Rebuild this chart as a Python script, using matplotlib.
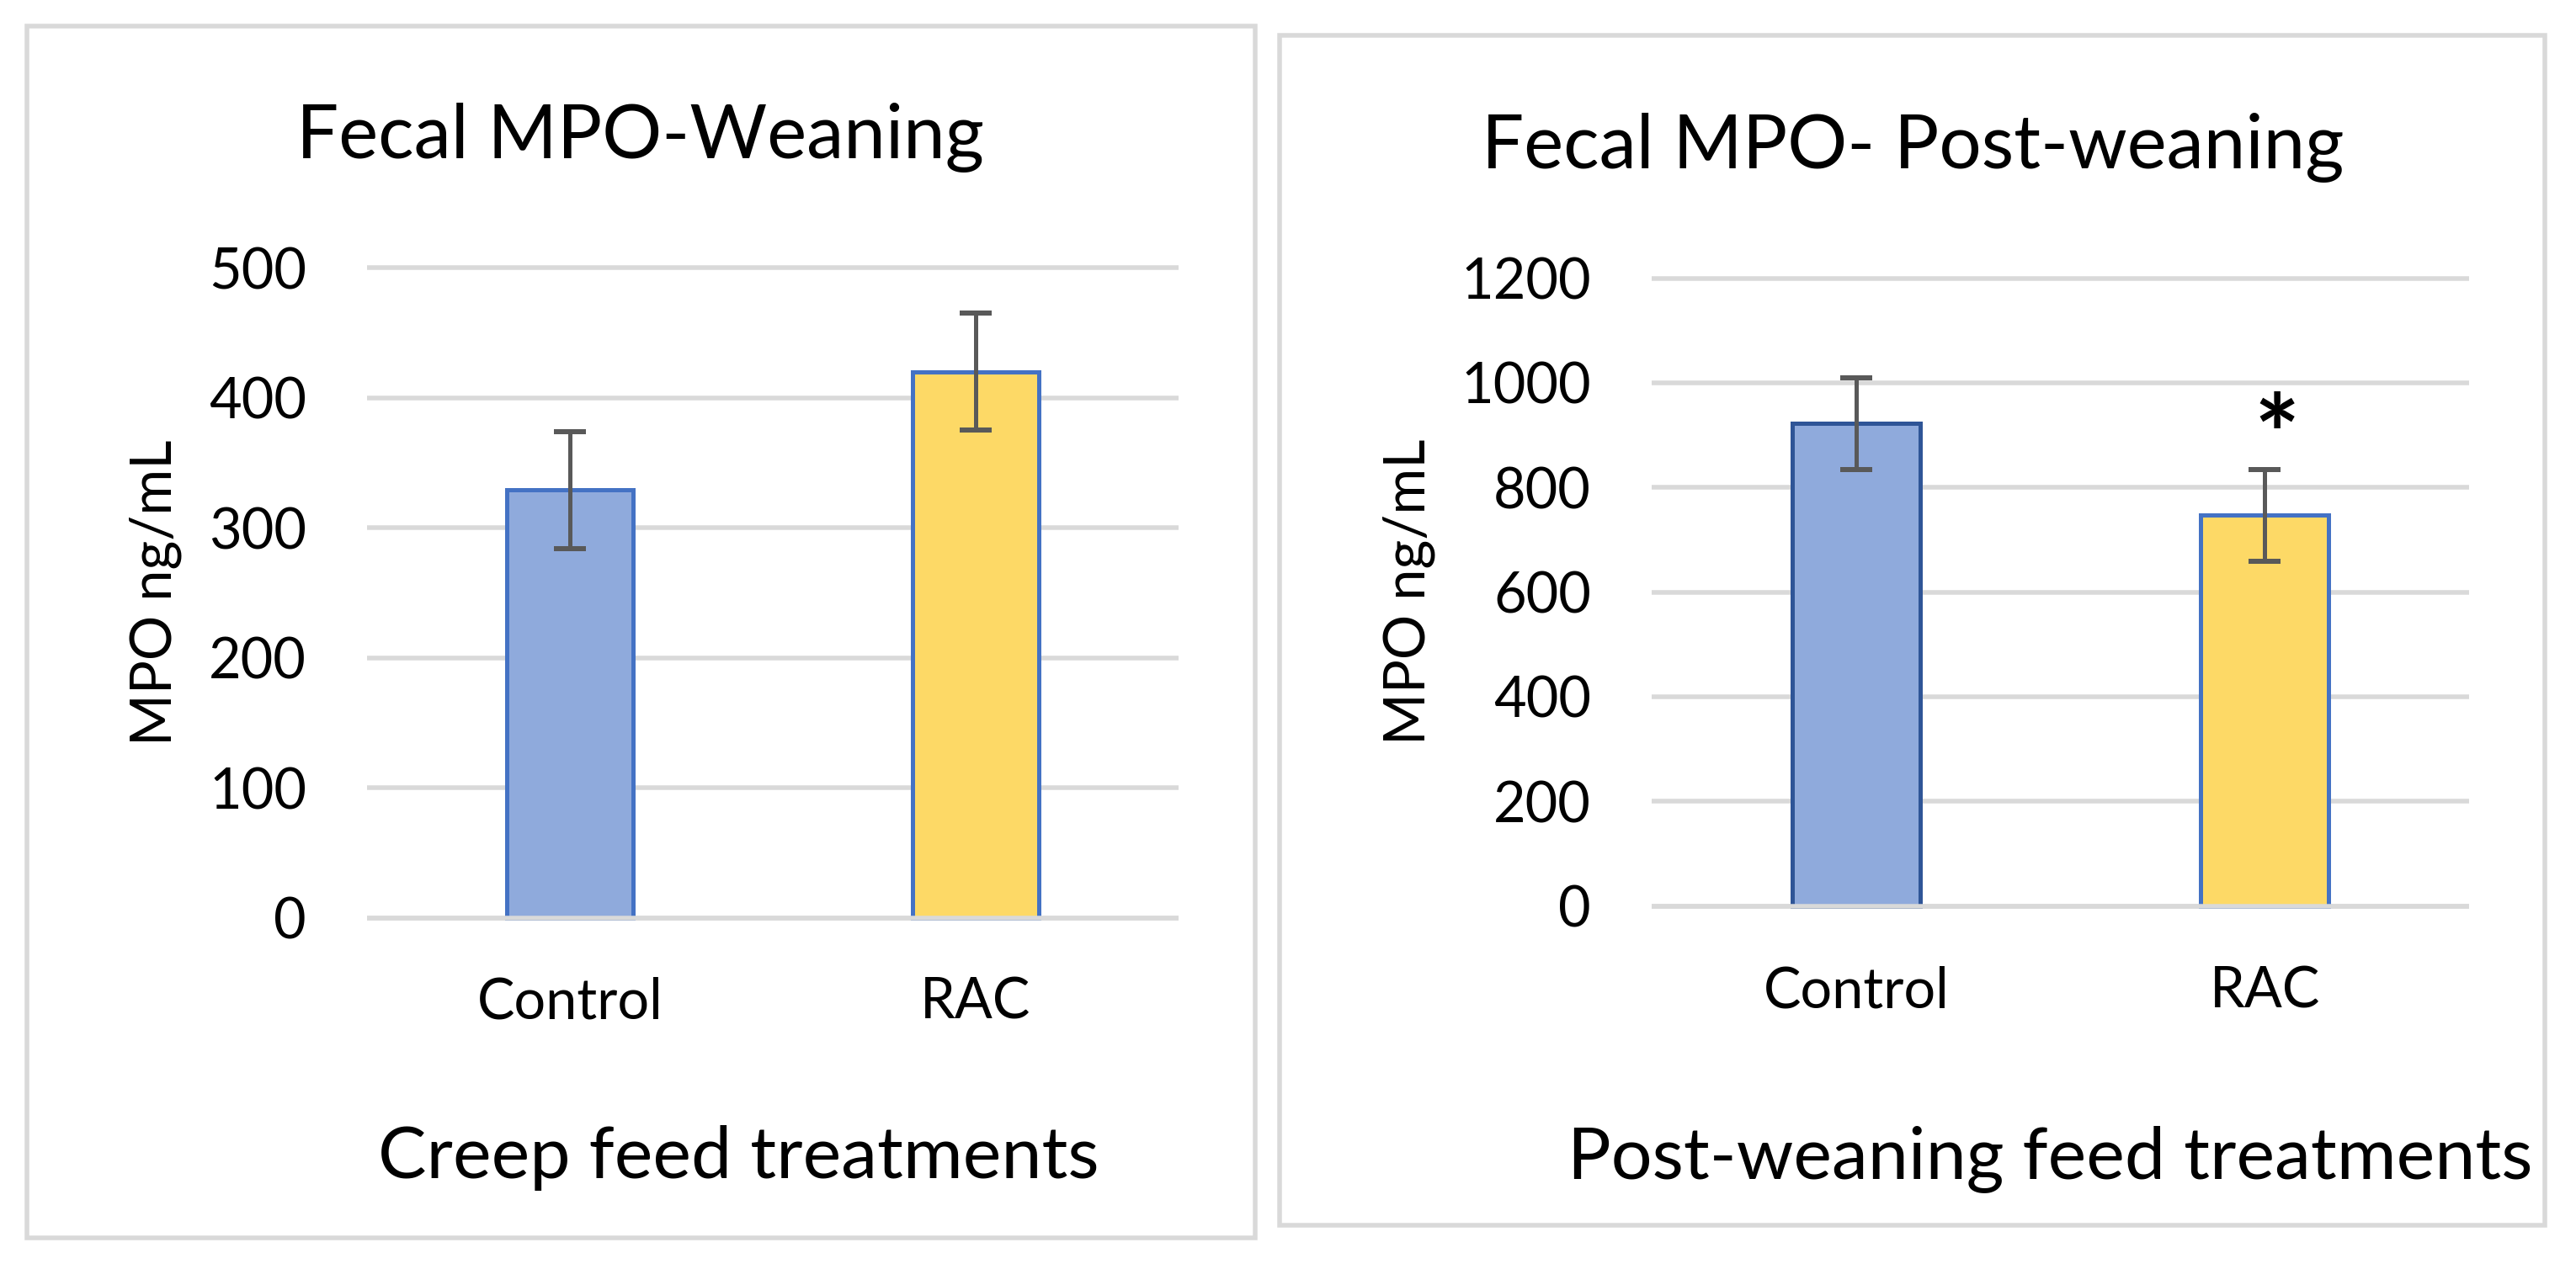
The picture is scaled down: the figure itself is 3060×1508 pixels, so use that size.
import matplotlib
matplotlib.use("Agg")
import matplotlib.pyplot as plt
from matplotlib.patches import Rectangle

plt.rcParams['font.family'] = ['Lato', 'DejaVu Sans']

# data
groups = ["Control", "RAC"]
wean_mean = [329, 420]
wean_err = [45, 45]
post_mean = [922, 747]
post_err = [88, 88]

W, H = 3060, 1508
DPI = 200
fig = plt.figure(figsize=(W / DPI, H / DPI), dpi=DPI)

PT = 72 / DPI  # points per pixel


def fx(px):
    return px / W


def fy(py):
    return 1 - py / H


def panel_box(x0, y0, x1, y1):
    r = Rectangle((fx(x0), fy(y1)), fx(x1) - fx(x0), fy(y0) - fy(y1),
                  transform=fig.transFigure, fill=False,
                  edgecolor="#D9D9D9", linewidth=5.5 * PT)
    fig.add_artist(r)


def make_axes(x0, x1, y_zero, y_top, top_val, pad_val):
    ppu = (y_zero - y_top) / top_val
    top_px = y_top - pad_val * ppu
    bot_px = y_zero + pad_val * ppu
    ax = fig.add_axes([fx(x0), fy(bot_px), fx(x1) - fx(x0), fy(top_px) - fy(bot_px)])
    ax.set_ylim(-pad_val, top_val + pad_val)
    ax.set_xlim(-0.5, 1.5)
    return ax


def draw(ax, means, errs, ticks, edges, ylabel, xpad):
    ax.bar(range(len(groups)), means, width=0.313,
           color=["#8FAADC", "#FDD966"], edgecolor=edges,
           linewidth=5 * PT, zorder=2)
    ax.errorbar(range(len(groups)), means, yerr=errs, fmt="none",
                ecolor="#595959", elinewidth=5 * PT, capsize=19 * PT,
                capthick=6 * PT, zorder=4)
    ax.set_yticks(ticks)
    ax.set_xticks(range(len(groups)), groups)
    ax.yaxis.grid(True, color="#D9D9D9", linewidth=5.5 * PT, zorder=0)
    ax.axhline(0, color="#D9D9D9", linewidth=5.5 * PT, zorder=3)
    ax.set_axisbelow(True)
    for s in ax.spines.values():
        s.set_visible(False)
    ax.tick_params(axis="both", length=0, labelsize=24, colors="black")
    ax.tick_params(axis="y", pad=72 * PT)
    ax.tick_params(axis="x", pad=xpad * PT)
    ax.set_ylabel(ylabel, fontsize=24, va="center")


panel_box(32, 31, 1491, 1471)
panel_box(1520, 42, 3023, 1456)

ax1 = make_axes(436, 1400, 1091, 318, 500, 8)
draw(ax1, wean_mean, wean_err, [0, 100, 200, 300, 400, 500],
     ["#4472C4", "#4472C4"], "MPO ng/mL", 57)
ax1.yaxis.set_label_coords((185 - 436) / 964, 0.5)

ax2 = make_axes(1962, 2933, 1076.5, 330.7, 1200, 20)
draw(ax2, post_mean, post_err, [0, 200, 400, 600, 800, 1000, 1200],
     ["#2F5597", "#4472C4"], "MPO ng/mL", 59)
ax2.yaxis.set_label_coords((1674 - 1962) / 971, 0.5)
ax2.text(1.03, 885, "*", ha="center", va="center", fontsize=46,
         fontweight="bold", zorder=5)

fig.text(fx(761), fy(188), "Fecal MPO-Weaning", ha="center", va="baseline", fontsize=32)
fig.text(fx(2272), fy(200), "Fecal MPO- Post-weaning", ha="center", va="baseline", fontsize=32)
fig.text(fx(877), fy(1400), "Creep feed treatments", ha="center", va="baseline", fontsize=31)
fig.text(fx(2435), fy(1400), "Post-weaning feed treatments", ha="center", va="baseline", fontsize=31)

fig.savefig("out.png", dpi=DPI, facecolor="white")
